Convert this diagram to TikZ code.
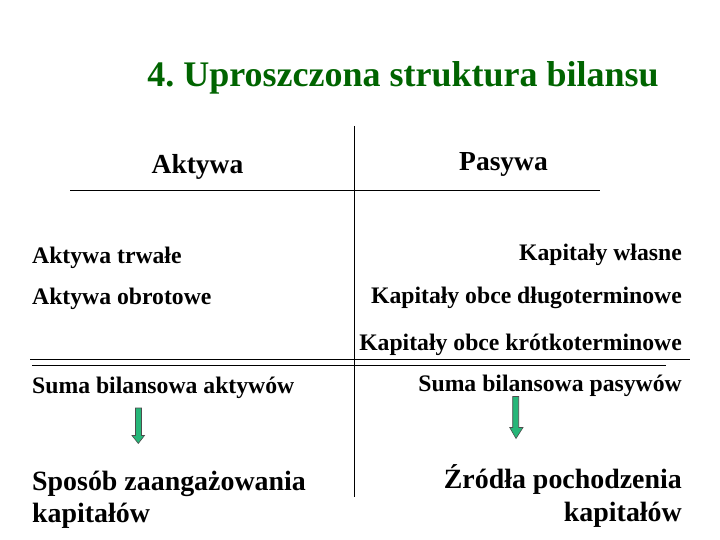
\documentclass[tikz,border=0pt]{standalone}
\usepackage{fontspec}
\setmainfont{Liberation Serif}
\frenchspacing
\definecolor{titlegreen}{RGB}{0,100,0}
\definecolor{arrowfill}{RGB}{38,182,120}
\tikzset{
  rule/.style={line width=1pt, black},
  hdr/.style={inner sep=0pt, font=\fontsize{27.5}{30}\selectfont\bfseries},
  item/.style={inner sep=0pt, font=\fontsize{23.7}{26}\selectfont\bfseries},
  big/.style={inner sep=0pt, font=\fontsize{27.9}{33}\selectfont\bfseries},
  blockarrow/.style={fill=arrowfill, draw=black!70, line width=0.6pt, line join=miter}
}
\begin{document}
\begin{tikzpicture}[x=1pt,y=-1pt]
\useasboundingbox (0,0) rectangle (720,540);
% title
\node[inner sep=0pt, anchor=base, text=titlegreen, font=\fontsize{36}{40}\selectfont\bfseries] (title) at (403,87) {4. Uproszczona struktura bilansu};
% rules
\coordinate (vtop) at (354,126);
\coordinate (vbot) at (354,497);
\draw[rule] (vtop) -- (vbot);
\coordinate (hl) at (70,191);
\coordinate (hr) at (600,191);
\draw[rule] (hl) -- (hr);
\coordinate (d1l) at (30,359);
\coordinate (d1r) at (690,359);
\coordinate (d2l) at (32,365);
\coordinate (d2r) at (666,365);
\draw[rule] (d1l) -- (d1r);
\draw[rule] (d2l) -- (d2r);
% headers
\node[hdr, anchor=base] (akt) at (197.5,174) {Aktywa};
\node[hdr, anchor=base] (pas) at (503.5,171) {Pasywa};
% items
\node[item, anchor=base west] (a1) at (32,263) {Aktywa trwałe};
\node[item, anchor=base west] (a2) at (32,304) {Aktywa obrotowe};
\node[item, anchor=base east] (p1) at (682,260) {Kapitały własne};
\node[item, anchor=base east] (p2) at (682,303) {Kapitały obce długoterminowe};
\node[item, anchor=base east] (p3) at (682,350) {Kapitały obce krótkoterminowe};
\node[item, anchor=base west] (sa) at (32,393) {Suma bilansowa aktywów};
\node[item, anchor=base east] (sp) at (682,391) {Suma bilansowa pasywów};
% block arrows
\draw[blockarrow] (135.5,408) -- (141.5,408) -- (141.5,435.5) -- (144.5,435.5) -- (138.3,443.5) -- (132,435.5) -- (135.5,435.5) -- cycle;
\draw[blockarrow] (512.7,396.5) -- (518.7,396.5) -- (518.7,427.5) -- (523,427.5) -- (516,438.5) -- (509.7,427.5) -- (512.7,427.5) -- cycle;
% bottom
\node[big, anchor=base west] (sz) at (32,490) {Sposób zaangażowania};
\node[big, anchor=base west] (sz2) at (32,522) {kapitałów};
\node[big, anchor=base east] (zr) at (682,488) {Źródła pochodzenia};
\node[big, anchor=base east] (zr2) at (682,521) {kapitałów};
\end{tikzpicture}
\end{document}
